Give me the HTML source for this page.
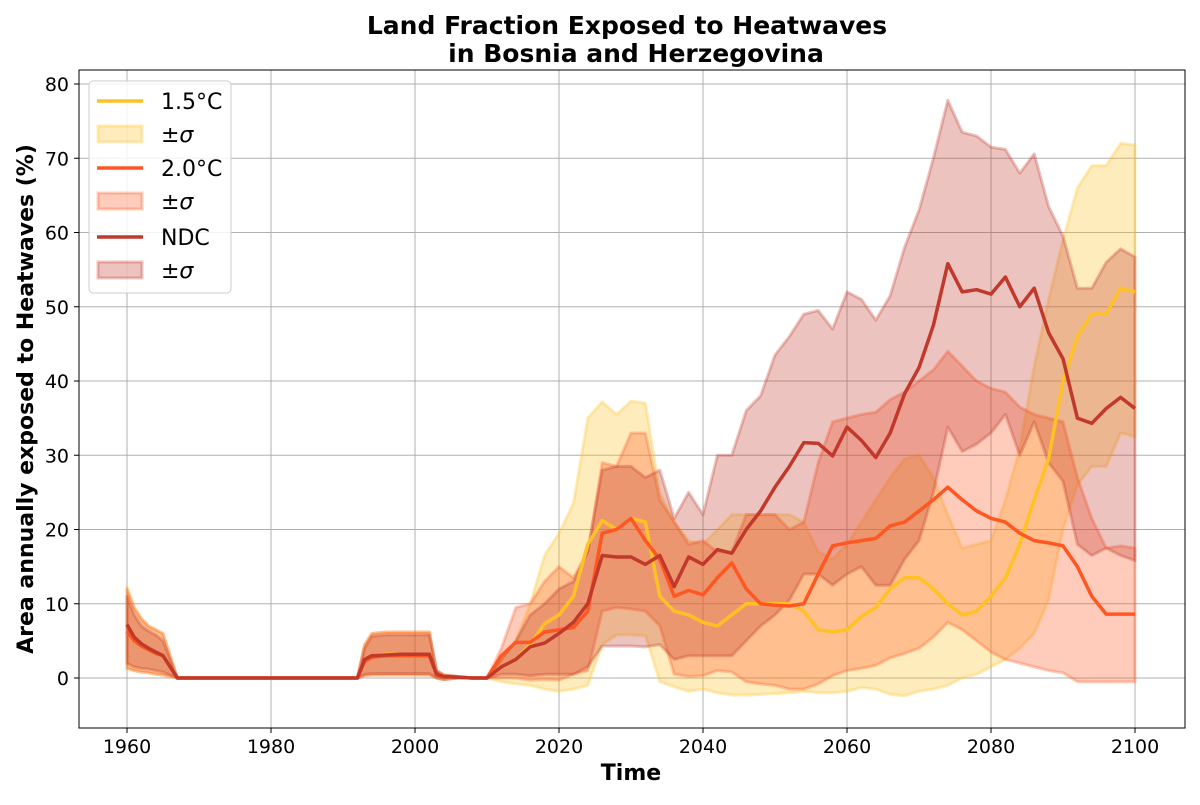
<!DOCTYPE html>
<html><head><meta charset="utf-8"><style>
body{margin:0;background:#fff}
svg text{font-family:"DejaVu Sans","Liberation Sans",sans-serif}
</style></head><body>
<svg id="chart" width="1200" height="800" xmlns="http://www.w3.org/2000/svg">
<rect width="1200" height="800" fill="#fff"/>
<g id="grid"></g><g id="bands"></g><g id="lines"></g><g id="axes"></g>
<text x="627" y="34" text-anchor="middle" font-size="25" font-weight="bold">Land Fraction Exposed to Heatwaves</text>
<text x="636" y="62" text-anchor="middle" font-size="25" font-weight="bold">in Bosnia and Herzegovina</text>
<text x="631" y="780" text-anchor="middle" font-size="22" font-weight="bold">Time</text>
<text transform="translate(33,399) rotate(-90)" text-anchor="middle" font-size="22" font-weight="bold">Area annually exposed to Heatwaves (%)</text>
<g id="legend"></g>
</svg>
<script>
const years=[1960,1961,1962,1963,1964,1965,1966,1967,1992,1993,1994,1996,1998,2000,2002,2003,2004,2006,2008,2010,2012,2014,2016,2018,2020,2022,2024,2026,2028,2030,2032,2034,2036,2038,2040,2042,2044,2046,2048,2050,2052,2054,2056,2058,2060,2062,2064,2066,2068,2070,2072,2074,2076,2078,2080,2082,2084,2086,2088,2090,2092,2094,2096,2098,2100];
const ndcMean=[7.2,5.5,4.6,4,3.5,3,1.5,0,0,2.5,3,3.1,3.2,3.2,3.2,0.5,0.2,0.1,0,0,1.5,2.5,4.2,4.7,6,7.5,10,16.5,16.3,16.3,15.3,16.5,12.3,16.3,15.3,17.3,16.8,20,22.5,25.7,28.5,31.7,31.6,29.9,33.8,32,29.7,33,38.3,41.8,47.5,55.8,52,52.3,51.7,54,50,52.5,46.5,43,35,34.3,36.3,37.8,36.3];
const ndcHi=[11,8.5,7,6.3,5.8,5,2.5,0,0,4,5.6,5.8,5.8,5.8,5.8,1,0.4,0.2,0,0,2.5,5,8.5,10,12,13,17,28,28.5,28.5,27,28,21.5,25,22,30,30,36,38,43.5,46,49,49.5,47,52,51,48.2,51.5,58,63,70,77.8,73.5,73,71.5,71.2,68,70.6,63.5,59.5,52.5,52.5,56,57.8,56.7];
const ndcLo=[2,1.5,1.3,1.2,1,0.8,0.4,0,0,0.5,0.6,0.6,0.6,0.6,0.6,0,-0.2,0,0,0,0.5,0.5,0.3,0.5,0.5,0.5,1.5,4.3,4.3,4.3,4.2,4.5,2.5,3,3,3,3,5,7,8.5,10.5,14,14,12.5,14,15,12.5,12.5,16,18.5,25,33.8,30.5,31.5,33,35.5,30,34.5,29,26.5,18,16.5,17.5,16.5,15.8];
const c20Mean=[6.3,5,4.3,3.8,3.3,3,1.5,0,0,2.2,2.8,3,3,3,3,0.4,0.2,0.1,0,0,3,4.8,4.8,6.2,6.5,6.8,9,19.5,20,21.5,18.5,16,11,11.8,11.2,13.5,15.5,12,10,9.8,9.7,10,14,17.8,18.2,18.5,18.8,20.5,21,22.5,24,25.7,24,22.5,21.5,21,19.5,18.5,18.2,17.8,15,11,8.6,8.6,8.6];
const c20Hi=[12,9.5,8,7,6.5,6,3,0,0,4.5,6,6.2,6.2,6.2,6.2,1,0.4,0.2,0,0,4,9.5,10,13,15,13.5,17,29,28.5,33,33,24,21,18,18.5,17,17,22,22,22,20,21,29,34.5,35,35.5,35.8,37.5,38.5,40,41.5,44,42,40,39,38.5,36.5,35.5,35,34.5,27,21.5,17.5,17.8,17.5];
const c20Lo=[1.3,1,0.8,0.7,0.5,0.4,0.2,0,0,0.3,0.4,0.4,0.4,0.4,0.4,0,-0.2,0,0,0,0,0,-0.3,-0.2,-0.3,0.5,1,9,9.5,9.3,9,7,0.5,0.2,0.3,1,0.8,-0.5,-0.8,-1,-1.5,-1.5,-0.8,0.3,1,1.3,1.7,2.7,3.3,4,5.5,7.5,6.5,5,3.5,2.5,2,1.5,1,0.7,-0.5,-0.5,-0.5,-0.5,-0.5];
const c15Mean=[6.3,5,4.3,3.8,3.3,3,1.5,0,0,2.2,3,3.2,3.2,3.2,3.2,0.4,0.2,0.1,0,0,1.5,2.5,4.5,7.3,8.5,11,18,21.2,20,21.5,21,11,9,8.5,7.5,7,8.5,10,10,10,10,9,6.5,6.2,6.5,8.3,9.5,12,13.5,13.5,12,10,8.5,9,11,13.5,18,24,29.5,40,46,49,49,52.5,52];
const c15Hi=[12.3,9.5,8,7,6.5,6,3,0,0,4.5,6,6.2,6.2,6.2,6.2,1,0.4,0.2,0,0,2.5,5,10,16.5,19.5,23.5,35,37.2,35.5,37.3,37,25,21,18.5,18,20,22,22,22,22,22,21,17,16,18,21,24,27,29.5,30,27,22,17.5,18,18.5,24,31,42,51,59,66,69,69,72,71.8];
const c15Lo=[1.3,1,0.8,0.7,0.5,0.4,0.2,0,0,0.3,0.4,0.4,0.4,0.4,0.4,0,-0.2,0,0,0,-0.5,-0.8,-1,-1.5,-1.8,-1.5,-1,4.5,5.8,5.8,5.7,-0.5,-1.2,-1.8,-1.5,-2,-2.3,-2.3,-2.2,-2.1,-2,-1.8,-2,-2,-1.8,-1.3,-1.5,-2.2,-2.4,-1.8,-1.5,-1,0,0.5,1.5,2.5,4,6,10.5,20,26,28.5,28.5,33,32.5];
const xTicks=[1960,1980,2000,2020,2040,2060,2080,2100];
const yTicks=[0,10,20,30,40,50,60,70,80];

const NS="http://www.w3.org/2000/svg";
const L=79,R=1185,T=70,B=728;
const xs=v=>127+(v-1960)*7.2;
const ys=v=>678-v*7.425;
function mk(tag,attrs,parent){const e=document.createElementNS(NS,tag);for(const k in attrs)e.setAttribute(k,attrs[k]);document.getElementById(parent).appendChild(e);return e;}

xTicks.forEach(t=>{
  const g=mk('line',{x1:xs(t),x2:xs(t),y1:T,y2:B,stroke:'#b0b0b0','stroke-width':1},'grid');
  
  
  const tk=mk('line',{x1:xs(t),x2:xs(t),y1:B,y2:B+5,stroke:'#000'},'axes');
  
  
  const tx=mk('text',{x:xs(t),y:B+25,'text-anchor':'middle','font-size':19},'axes');
  tx.textContent=t;
  
  
});
yTicks.forEach(t=>{
  const g=mk('line',{x1:L,x2:R,y1:ys(t),y2:ys(t),stroke:'#b0b0b0','stroke-width':1},'grid');
  
  
  const tk=mk('line',{x1:L-5,x2:L,y1:ys(t),y2:ys(t),stroke:'#000'},'axes');
  
  
  const tx=mk('text',{x:L-10,y:ys(t)+7,'text-anchor':'end','font-size':19},'axes');
  tx.textContent=t;
  
  
});
const frame=mk('rect',{x:L,y:T,width:R-L,height:B-T,fill:'none',stroke:'#000','stroke-width':1},'axes');



function band(hi,lo,color,name){
  let d='M'+years.map((y,i)=>xs(y)+','+ys(hi[i])).join('L');
  for(let i=years.length-1;i>=0;i--)d+='L'+xs(years[i])+','+ys(lo[i]);
  d+='Z';
  const p=mk('path',{d:d,fill:color,'fill-opacity':0.3,stroke:color,'stroke-opacity':0.3,'stroke-width':3,'stroke-linejoin':'round'},'bands');
  
  
}
function line(vals,color,name){
  const d='M'+years.map((y,i)=>xs(y)+','+ys(vals[i])).join('L');
  const p=mk('path',{d:d,fill:'none',stroke:color,'stroke-width':3.5,'stroke-linejoin':'round'},'lines');
  
  
}
const C15='#ffc125',C20='#ff5722',CN='#c0392b';
band(c15Hi,c15Lo,C15,'band-1-5c');
band(c20Hi,c20Lo,C20,'band-2-0c');
band(ndcHi,ndcLo,CN,'band-ndc');
line(c15Mean,C15,'line-1-5c');
line(c20Mean,C20,'line-2-0c');
line(ndcMean,CN,'line-ndc');

const lb=mk('rect',{x:89,y:81,width:142,height:212,rx:4,fill:'#fff','fill-opacity':0.85,stroke:'#ccc'},'legend');


const entries=[['1.5°C',C15,0,'legend-1-5c'],['±σ',C15,1,'legend-band-1-5c'],['2.0°C',C20,0,'legend-2-0c'],['±σ',C20,1,'legend-band-2-0c'],['NDC',CN,0,'legend-ndc'],['±σ',CN,1,'legend-band-ndc']];
const ly=[101,134,168,201,237,270];
entries.forEach((e,i)=>{
  if(e[2]){
    const r=mk('rect',{x:98,y:ly[i]-8,width:44,height:16,fill:e[1],'fill-opacity':0.3,stroke:e[1],'stroke-opacity':0.3,'stroke-width':3},'legend');
    
    
  }else{
    const l=mk('line',{x1:97,x2:143,y1:ly[i],y2:ly[i],stroke:e[1],'stroke-width':3.5},'legend');
    
    
  }
  const t=mk('text',{x:161,y:ly[i]+8,'font-size':22},'legend');
  t.textContent=e[0];
  if(e[2])t.setAttribute('font-style','italic');
  
  
});
</script>
</body></html>
